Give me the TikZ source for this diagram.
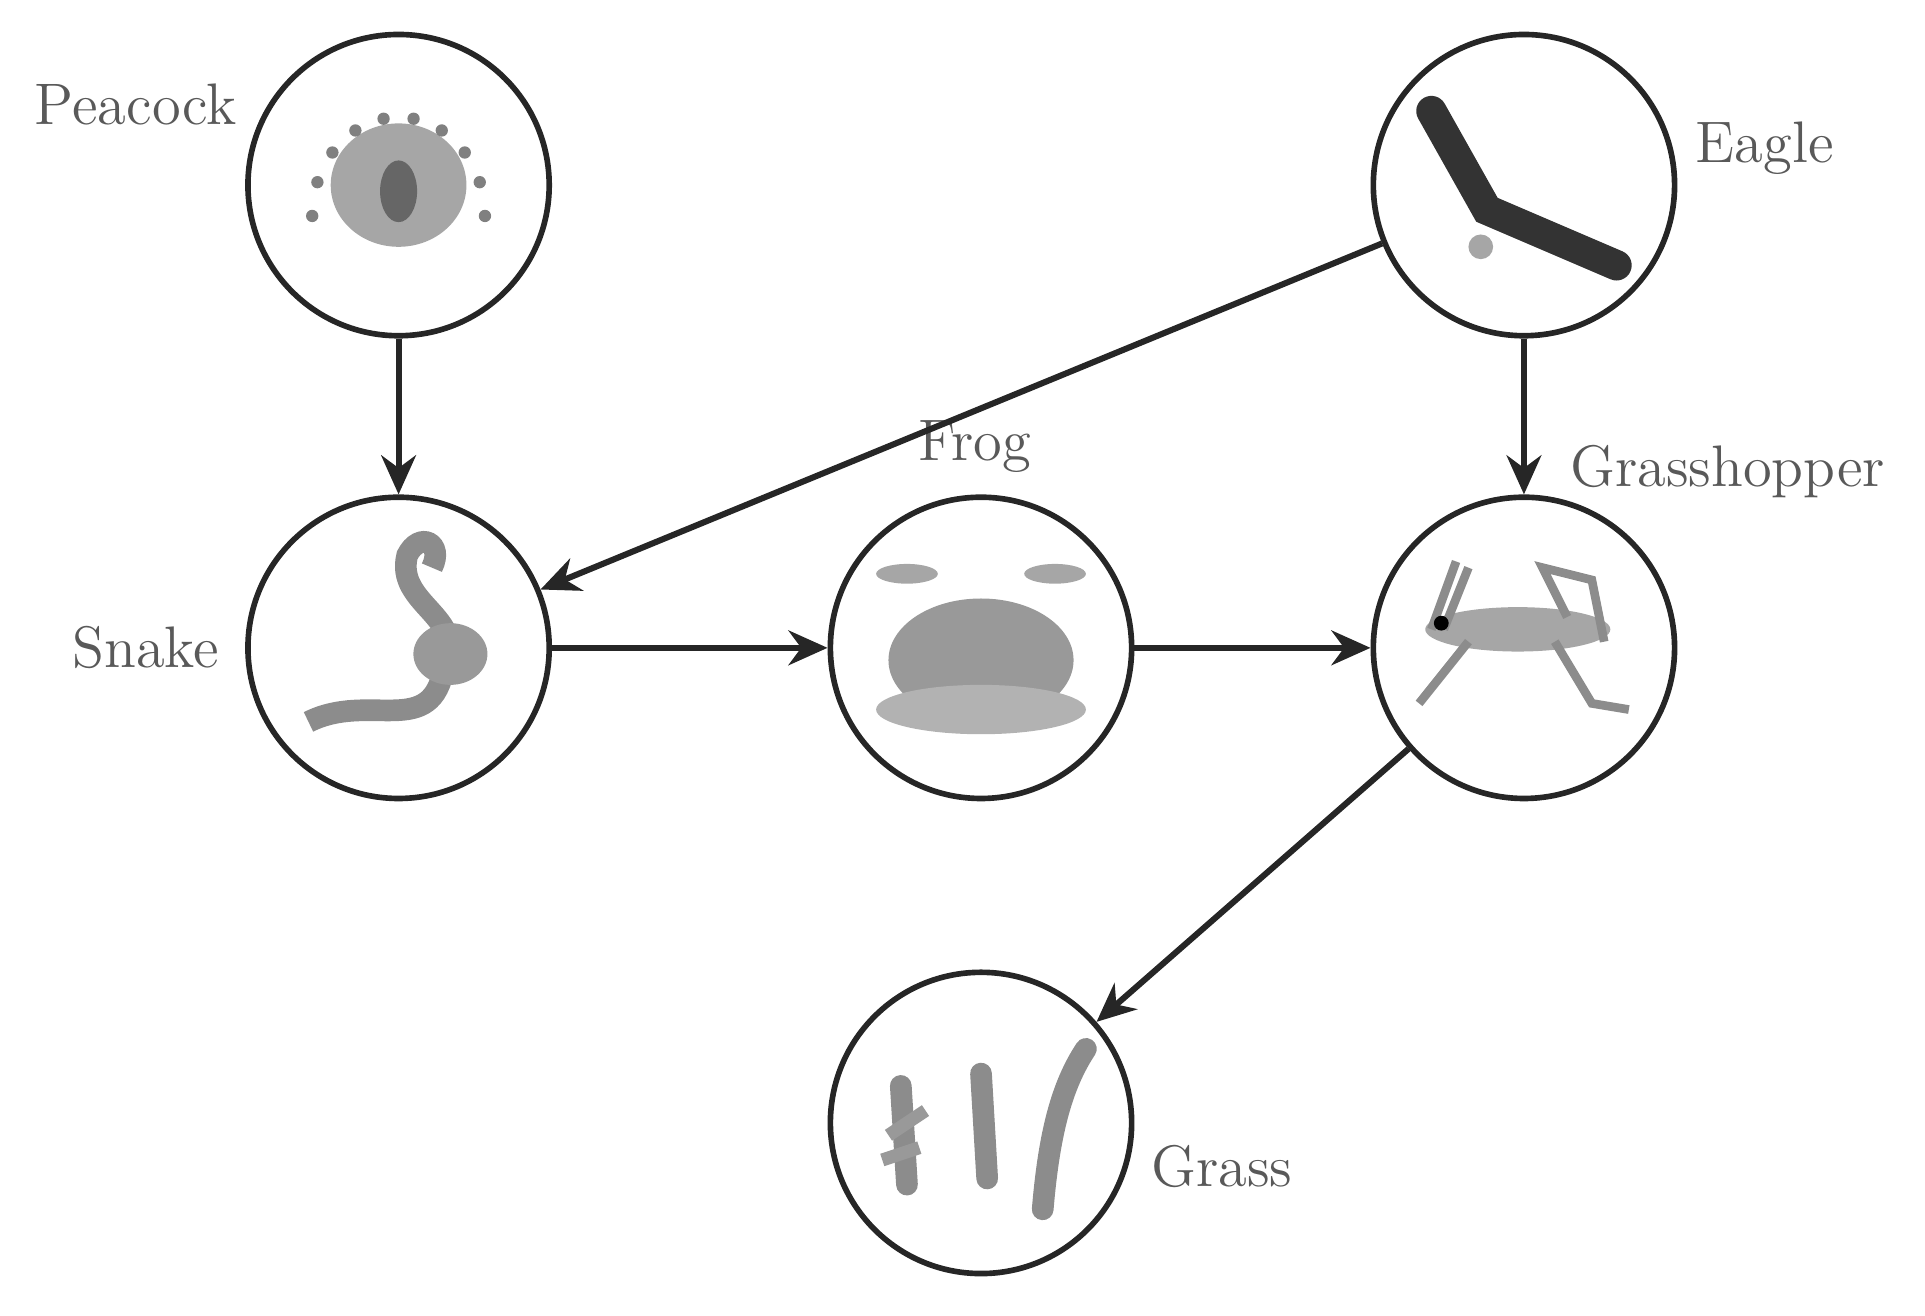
\documentclass[tikz,border=0pt]{standalone}
\usetikzlibrary{arrows.meta,calc}
\begin{document}
\begin{tikzpicture}[x=0.01cm,y=-0.01cm,
  animal/.style={circle,draw=black!85,line width=1.3pt,minimum size=2.44cm,inner sep=0pt},
  lab/.style={text=black!65,font=\fontsize{13.5}{16}\selectfont},
  feed/.style={-{Stealth[length=9pt,width=8pt]},line width=1.4pt,draw=black!85}]
\useasboundingbox (0,0) rectangle (1560,1066);
\node[animal] (peacock) at (323,150) {};
\node[animal] (eagle) at (1235,150) {};
\node[animal] (snake) at (323,525) {};
\node[animal] (frog) at (795,525) {};
\node[animal] (grasshopper) at (1235,525) {};
\node[animal] (grass) at (795,910) {};
\node[lab] (lpeacock) at (110,85) {Peacock};
\node[lab] (leagle) at (1430,120) {Eagle};
\node[lab] (lfrog) at (790,362) {Frog};
\node[lab] (lgrass) at (1400,382) {Grasshopper};
\node[lab] (lsnake) at (118,525) {Snake};
\node[lab] (lgrs) at (990,945) {Grass};
% sketches
\fill[black!35] (323,150) ellipse (55 and 50);
\foreach \a in {0,20,...,180}{\fill[black!50] ($(323,175)+(\a:70 and -80)$) circle (5);}
\fill[black!60] (323,155) ellipse (15 and 25);
\draw[black!80,line width=7pt,line cap=round] (1160,90) -- (1205,170) -- (1310,215);
\fill[black!35] (1200,200) circle (10);
\draw[black!45,line width=5pt] (250,585) .. controls (300,560) and (350,600) .. (360,540) .. controls (380,500) and (320,490) .. (330,450) .. controls (340,430) and (360,440) .. (350,460);
\fill[black!40] (365,530) ellipse (30 and 25);
\fill[black!40] (795,535) ellipse (75 and 50);
\fill[black!30] (795,575) ellipse (85 and 20);
\fill[black!35] (735,465) ellipse (25 and 8);
\fill[black!35] (855,465) ellipse (25 and 8);
\fill[black!35] (1230,510) ellipse (75 and 18);
\draw[black!45,line width=2pt] (1160,510) -- (1180,455) (1170,510) -- (1190,460) (1190,520) -- (1150,570) (1260,520) -- (1290,570) -- (1320,575) (1270,500) -- (1250,460) -- (1290,470) -- (1300,520);
\fill[black] (1168,505) circle (6);
\draw[black!45,line width=5pt,line cap=round] (735,960) -- (730,880) (800,955) -- (795,870) (845,980) .. controls (850,920) and (860,880) .. (880,850);
\draw[black!40,line width=3pt] (720,920) -- (750,900) (715,940) -- (745,930);
% edges
\draw[feed] (peacock) -- (snake);
\draw[feed] (eagle) -- (grasshopper);
\draw[feed] (eagle) -- (snake);
\draw[feed] (snake) -- (frog);
\draw[feed] (frog) -- (grasshopper);
\draw[feed] (grasshopper) -- (grass);
\end{tikzpicture}
\end{document}
